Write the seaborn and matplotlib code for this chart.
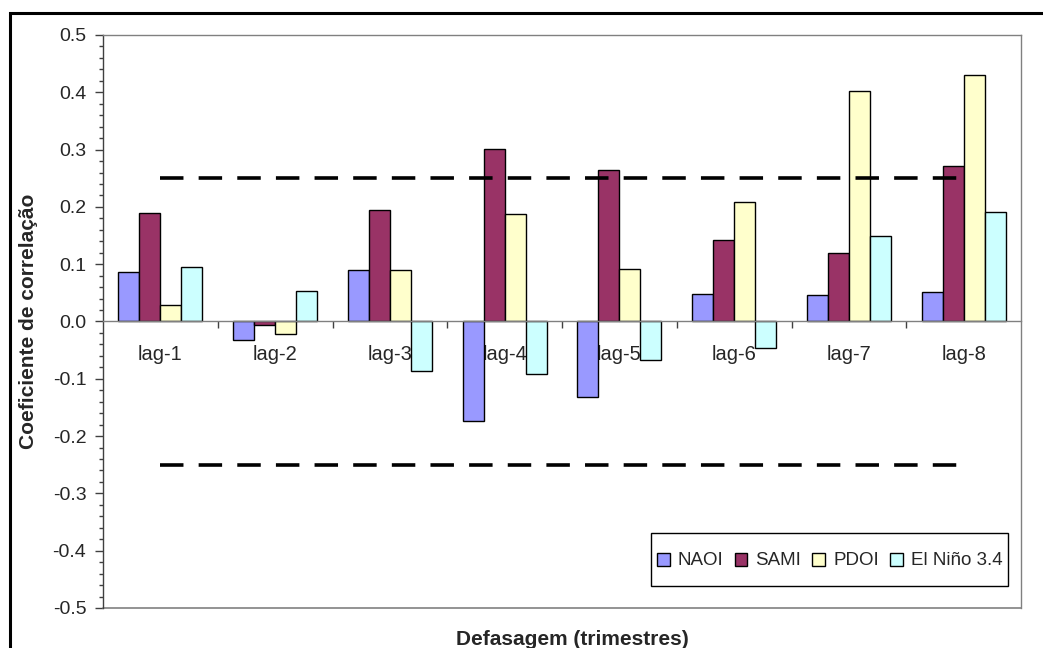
import pandas as pd
import matplotlib
matplotlib.use("Agg")
import matplotlib.pyplot as plt
from matplotlib.patches import Rectangle
from matplotlib.legend_handler import HandlerPatch
from matplotlib.ticker import MultipleLocator, FormatStrFormatter
import seaborn as sns

# dados
lags = ["lag-1", "lag-2", "lag-3", "lag-4", "lag-5", "lag-6", "lag-7", "lag-8"]
naoi = [0.086, -0.033, 0.090, -0.173, -0.131, 0.048, 0.046, 0.052]
sami = [0.189, -0.006, 0.195, 0.301, 0.264, 0.143, 0.120, 0.271]
pdoi = [0.029, -0.021, 0.090, 0.188, 0.092, 0.209, 0.402, 0.431]
nino = [0.095, 0.054, -0.087, -0.091, -0.067, -0.046, 0.150, 0.191]
series = ["NAOI", "SAMI", "PDOI", "El Niño 3.4"]
limite = 0.25

cores = ["#9999FF", "#993366", "#FFFFCC", "#CCFFFF"]

sns.set_style("white")
plt.rcParams["font.family"] = ["Liberation Sans", "DejaVu Sans"]

df = pd.DataFrame({
    "lag": lags * 4,
    "valor": naoi + sami + pdoi + nino,
    "indice": [s for s in series for _ in lags],
})

fig = plt.figure(figsize=(10.43, 6.48), dpi=100)
ax = fig.add_axes([103 / 1043, 1 - 608 / 648, 918 / 1043, 573 / 648])

sns.barplot(data=df, x="lag", y="valor", hue="indice", hue_order=series,
            palette=cores, width=0.73, edgecolor="black", linewidth=1,
            saturation=1, ax=ax)

# linhas de significância
ax.hlines([limite, -limite], 0, len(lags) - 1, colors="black",
          linewidth=2.6, linestyles=(0, (6.5, 4.2)), zorder=3)

ax.set_ylim(-0.5, 0.5)
ax.set_xlim(-0.5, len(lags) - 0.5)
ax.yaxis.set_major_locator(MultipleLocator(0.1))
ax.yaxis.set_minor_locator(MultipleLocator(0.02))
ax.yaxis.set_major_formatter(FormatStrFormatter("%.1f"))
ax.tick_params(axis="y", which="major", direction="out", length=6, width=1,
               color="#404040", labelsize=14, left=True, pad=6)
ax.tick_params(axis="y", which="minor", direction="out", length=3, width=1,
               color="#404040", left=True)

# eixo x no zero, estilo Excel
ax.spines["bottom"].set_position(("data", 0))
ax.spines["bottom"].set_color("#808080")
ax.spines["top"].set_color("#808080")
ax.spines["right"].set_color("#808080")
ax.spines["left"].set_color("#404040")
for s in ax.spines.values():
    s.set_linewidth(1)
ax.axhline(-0.5, color="#808080", linewidth=1.2, clip_on=False)

ax.set_xticks([i + 0.5 for i in range(len(lags) - 1)])
ax.set_xticklabels([])
ax.set_xticks(range(len(lags)), minor=True)
ax.set_xticklabels(lags, minor=True)
ax.tick_params(axis="x", which="major", direction="out", length=5, width=1,
               color="#404040", bottom=True)
ax.tick_params(axis="x", which="minor", length=0, labelsize=14.5, pad=17)

ax.set_xlabel("Defasagem (trimestres)", fontsize=15, fontweight="bold")
ax.xaxis.set_label_coords(0.511, -0.038)
ax.set_ylabel("Coeficiente de correlação", fontsize=15, fontweight="bold")
ax.yaxis.set_label_coords(-0.071, 0.5)


# quadradinho pequeno na legenda, centrado numa caixa alta
def quadrado(legend, orig_handle, xdescent, ydescent, width, height, fontsize):
    lado = 0.68 * fontsize
    return Rectangle((-xdescent + (width - lado) / 2,
                      -ydescent + (height - lado) / 2), lado, lado)


handles, labels = ax.get_legend_handles_labels()
ax.legend(handles, labels, ncol=4, loc="lower right",
          bbox_to_anchor=(0.986, 0.038), fontsize=13.5, frameon=True,
          fancybox=False, edgecolor="black", framealpha=1,
          handlelength=0.75, handleheight=3.1, handletextpad=0.4,
          columnspacing=0.55, borderpad=0.3, borderaxespad=0,
          handler_map={Rectangle: HandlerPatch(patch_func=quadrado)})
ax.get_legend().get_frame().set_linewidth(1)

# moldura externa da figura
fig.patches.append(Rectangle((10 / 1043, -0.2), 1.2, 1.2 - 13 / 648,
                             transform=fig.transFigure, fill=False,
                             edgecolor="black", linewidth=2.2))

fig.savefig("out.png", dpi=100)
